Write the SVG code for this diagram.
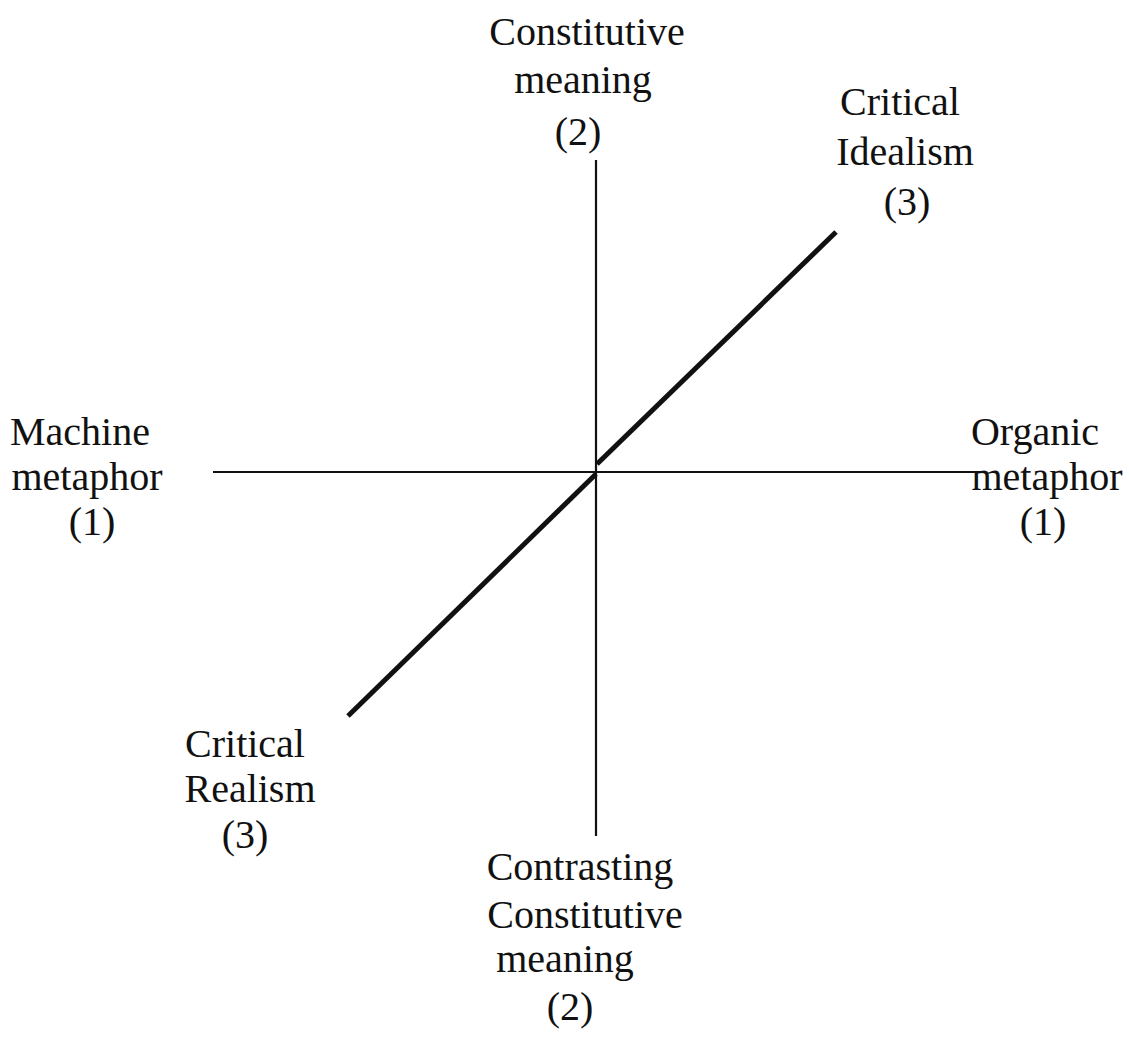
<svg xmlns="http://www.w3.org/2000/svg" width="1129" height="1041" viewBox="0 0 1129 1041">
  <style>
    .lbl { font-family: "Liberation Serif", "Times New Roman", serif; font-size: 40px; fill: #111; text-anchor: middle; }
    .axis { stroke: #111; stroke-width: 2.2; fill: none; }
    .diag { stroke: #111; stroke-width: 5; fill: none; stroke-linecap: butt; }
  </style>
  <rect width="1129" height="1041" fill="#fff"/>

  <!-- axes and diagonal -->
  <g id="connectors">
    <line class="axis" x1="596" y1="160" x2="596" y2="836"/>
    <line class="axis" x1="213" y1="472" x2="986" y2="472"/>
    <line class="diag" x1="348" y1="716" x2="596" y2="474"/>
    <line class="diag" x1="597" y1="464" x2="836" y2="232"/>
  </g>

  <g id="constitutive-meaning">
    <text class="lbl" x="587" y="45">Constitutive</text>
    <text class="lbl" x="583" y="93">meaning</text>
    <text class="lbl" x="578" y="145">(2)</text>
  </g>

  <g id="critical-idealism">
    <text class="lbl" x="900" y="115">Critical</text>
    <text class="lbl" x="905" y="165">Idealism</text>
    <text class="lbl" x="907" y="215">(3)</text>
  </g>

  <g id="machine-metaphor">
    <text class="lbl" x="80" y="445">Machine</text>
    <text class="lbl" x="87" y="490">metaphor</text>
    <text class="lbl" x="92" y="535">(1)</text>
  </g>

  <g id="organic-metaphor">
    <text class="lbl" x="1035" y="445">Organic</text>
    <text class="lbl" x="1047" y="490">metaphor</text>
    <text class="lbl" x="1043" y="535">(1)</text>
  </g>

  <g id="critical-realism">
    <text class="lbl" x="245" y="757">Critical</text>
    <text class="lbl" x="250" y="802">Realism</text>
    <text class="lbl" x="245" y="848">(3)</text>
  </g>

  <g id="contrasting-constitutive-meaning">
    <text class="lbl" x="580" y="880">Contrasting</text>
    <text class="lbl" x="585" y="928">Constitutive</text>
    <text class="lbl" x="565" y="972">meaning</text>
    <text class="lbl" x="570" y="1020">(2)</text>
  </g>
</svg>
